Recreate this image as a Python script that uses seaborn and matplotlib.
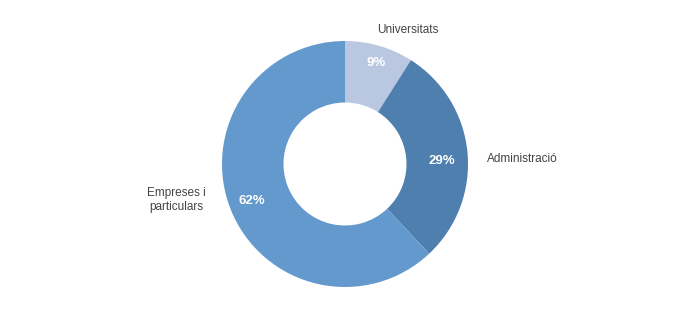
import matplotlib
matplotlib.use("Agg")
import matplotlib.pyplot as plt
import seaborn as sns

categories = ["Universitats", "Administració", "Empreses i\nparticulars"]
values = [9, 29, 62]
colors = ["#b9c8e0", "#4f7fae", "#6399cc"]

# layout: label anchor positions (in units of outer radius)
label_pos = [(0.512, 1.09, "center"), (1.155, 0.04, "left"), (-1.133, -0.295, "right")]
pct_pos = [(0.252, 0.825), (0.789, 0.025), (-0.756, -0.30)]

sns.set_theme(style="white")
plt.rcParams["font.family"] = ["Liberation Sans", "DejaVu Sans"]

fig = plt.figure(figsize=(7, 3.18), dpi=100)
ax = fig.add_axes([(345 - 123) / 700, (318 - 164 - 123) / 318, 246 / 700, 246 / 318])

wedges, texts, autotexts = ax.pie(
    values,
    labels=categories,
    colors=colors,
    startangle=90,
    counterclock=False,
    radius=1.0,
    wedgeprops=dict(width=0.5, edgecolor="none"),
    autopct=lambda p: f"{p:.0f}%",
    pctdistance=0.8,
    labeldistance=1.16,
    textprops=dict(fontsize=8.5, color="#444444"),
)
for t, (x, y, ha) in zip(texts, label_pos):
    t.set_position((x, y))
    t.set_va("center")
    t.set_ha(ha)
    t.set_multialignment("center")
for t, (x, y) in zip(autotexts, pct_pos):
    t.set_position((x, y))
    t.set_color("white")
    t.set_fontweight("bold")
    t.set_fontsize(9.5)
ax.set_xlim(-1, 1)
ax.set_ylim(-1, 1)
ax.set_aspect("equal")
ax.axis("off")

fig.savefig("out.png", dpi=100)
